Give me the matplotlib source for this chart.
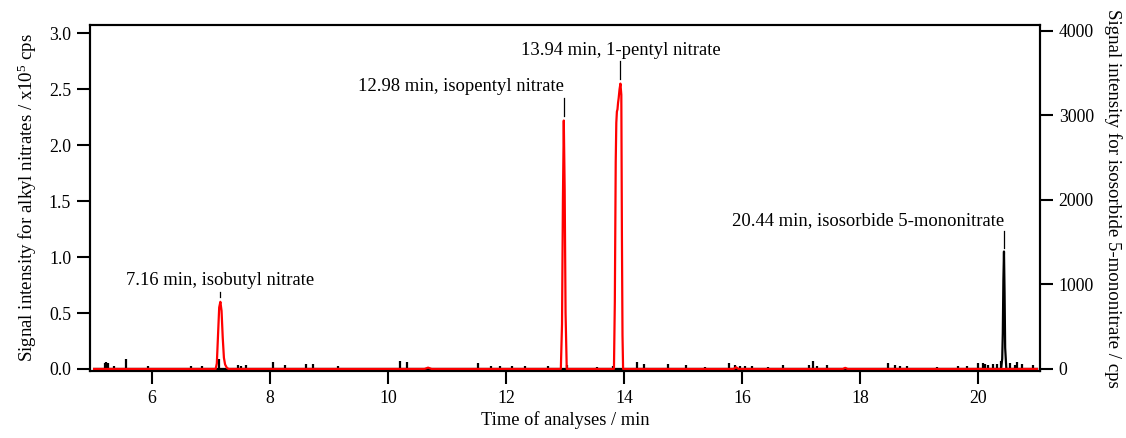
import matplotlib
matplotlib.use("Agg")
import matplotlib.pyplot as plt

plt.rcParams["font.family"] = ["Liberation Serif", "DejaVu Serif"]
plt.rcParams["mathtext.fontset"] = "custom"
plt.rcParams["mathtext.rm"] = "Liberation Serif"
plt.rcParams["mathtext.it"] = "Liberation Serif:italic"

# Alkyl nitrate trace (x10^5 cps), left axis
red_t = [5.02, 7.08, 7.10, 7.12, 7.14, 7.16, 7.18, 7.20, 7.22, 7.24, 7.27, 7.30,
         10.62, 10.68, 10.74,
         12.93, 12.95, 12.965, 12.98, 12.995, 13.01, 13.03,
         13.83, 13.845, 13.86, 13.87, 13.88, 13.89, 13.90, 13.91, 13.925, 13.94,
         13.955, 13.965, 13.975, 13.985,
         15.86, 15.90, 15.94, 17.71, 17.75, 17.79, 21.0]
red_v = [0.0, 0.0, 0.05, 0.30, 0.55, 0.60, 0.52, 0.28, 0.10, 0.04, 0.01, 0.0,
         0.0, 0.012, 0.0,
         0.0, 0.40, 1.50, 2.22, 1.60, 0.50, 0.0,
         0.0, 0.60, 1.85, 2.20, 2.30, 2.32, 2.38, 2.42, 2.50, 2.55,
         2.45, 1.20, 0.30, 0.0,
         0.0, 0.015, 0.0, 0.0, 0.01, 0.0, 0.0]

# Isosorbide 5-mononitrate trace (cps), right axis
black_t = [5.02, 20.39, 20.41, 20.42, 20.43, 20.44, 20.45, 20.46, 20.48, 21.0]
black_v = [0, 0, 120, 420, 1050, 1390, 900, 250, 0, 0]

noise_t = [5.20, 5.23, 5.25, 5.36, 5.56, 5.93, 6.66, 6.85, 7.14, 7.46, 7.51, 7.59,
           8.05, 8.25, 8.61, 8.73, 9.15, 10.20, 10.32, 11.53, 11.75, 11.90, 12.10,
           12.32, 12.71, 13.03, 13.54, 13.81, 14.22, 14.34, 14.75, 15.05, 15.37,
           15.78, 15.88, 15.97, 16.05, 16.17, 16.44, 16.69, 17.14, 17.20, 17.27,
           17.44, 18.47, 18.59, 18.68, 18.80, 19.31, 19.66, 19.81, 20.00, 20.08,
           20.12, 20.17, 20.25, 20.32, 20.39, 20.54, 20.63, 20.66, 20.75, 20.93]
noise_h = [75, 85, 70, 35, 115, 35, 35, 35, 120, 50, 30, 45,
           80, 45, 60, 55, 30, 90, 80, 70, 40, 35, 30,
           35, 30, 45, 25, 35, 80, 60, 60, 45, 25,
           65, 45, 40, 35, 35, 25, 45, 45, 90, 35,
           45, 70, 45, 35, 35, 25, 35, 35, 70, 70,
           55, 45, 55, 60, 100, 70, 50, 80, 55, 45]

peak_times = [7.16, 12.98, 13.94, 20.44]
peak_names = ["isobutyl nitrate", "isopentyl nitrate", "1-pentyl nitrate",
              "isosorbide 5-mononitrate"]

fig = plt.figure(figsize=(11.26, 4.38), dpi=100)
ax = fig.add_axes([0.0799, 0.1530, 0.8437, 0.7900])
ax2 = ax.twinx()

ax2.vlines(noise_t, 0, noise_h, color="black", lw=1.6)
ax2.plot(black_t, black_v, color="black", lw=1.6)
ax.plot(red_t, red_v, color="#ff0000", lw=1.6)

ax.set_zorder(ax2.get_zorder() + 1)
ax.patch.set_visible(False)

ax.set_xlim(4.95, 21.05)
ax.set_ylim(-0.018, 3.074)
ax2.set_ylim(-24, 4071)

ax.set_xticks([6, 8, 10, 12, 14, 16, 18, 20])
ax.set_yticks([0.0, 0.5, 1.0, 1.5, 2.0, 2.5, 3.0])
ax.set_yticklabels([f"{v:.1f}" for v in [0.0, 0.5, 1.0, 1.5, 2.0, 2.5, 3.0]])
ax2.set_yticks([0, 1000, 2000, 3000, 4000])

for a in (ax, ax2):
    for s in a.spines.values():
        s.set_linewidth(1.5)
    a.tick_params(direction="out", length=9.5, width=1.5, labelsize=12.8, pad=4)

ax.set_xlabel("Time of analyses / min", fontsize=13.2, labelpad=3)
ax.set_ylabel("Signal intensity for alkyl nitrates / x10$^5$ cps", fontsize=13.6, labelpad=7)
ax2.set_ylabel("Signal intensity for isosorbide 5-mononitrate / cps", fontsize=13.6,
               rotation=270, labelpad=20)

# peak labels with short marker lines
def label_peak(a, t, top, gap, h, text, ha, dx=0.0):
    a.plot([t, t], [top + gap, top + gap + h], color="black", lw=0.9)
    a.text(t + dx, top + gap + h + gap * 0.6, text, ha=ha, va="bottom", fontsize=13.4)

label_peak(ax, peak_times[0], 0.60, 0.04, 0.05, f"{peak_times[0]:.2f} min, {peak_names[0]}", "center", -0.01)
label_peak(ax, peak_times[1], 2.22, 0.04, 0.16, f"{peak_times[1]:.2f} min, {peak_names[1]}", "right", 0.0)
label_peak(ax, peak_times[2], 2.55, 0.04, 0.16, f"{peak_times[2]:.2f} min, {peak_names[2]}", "center", 0.0)
label_peak(ax2, peak_times[3], 1390, 40, 200, f"{peak_times[3]:.2f} min, {peak_names[3]}", "right", 0.0)

fig.savefig("out.png", dpi=100)
